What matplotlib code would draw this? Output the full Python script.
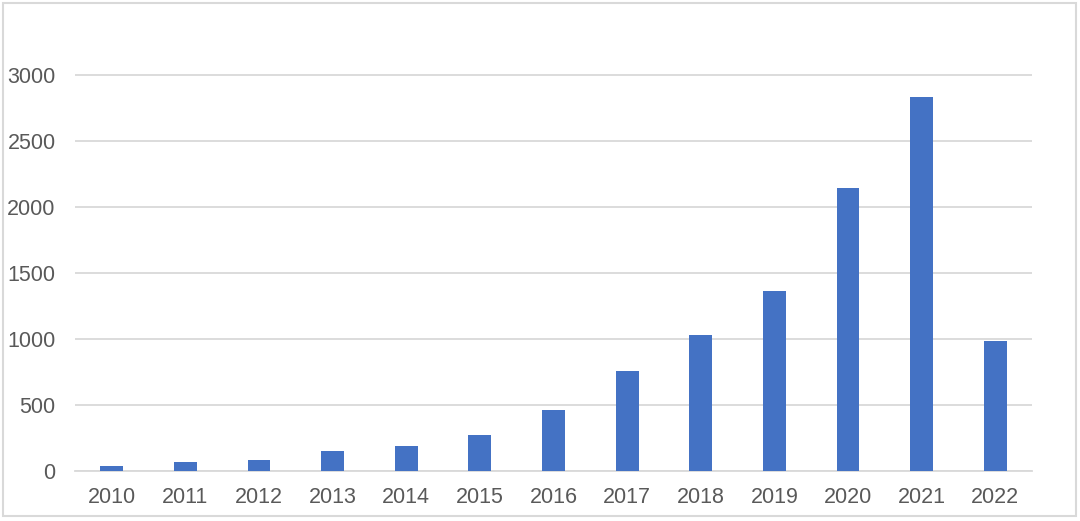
import matplotlib.pyplot as plt
from matplotlib.patches import Rectangle

years = ["2010", "2011", "2012", "2013", "2014", "2015", "2016",
         "2017", "2018", "2019", "2020", "2021", "2022"]
counts = [42, 68, 83, 151, 189, 277, 466, 761, 1031, 1362, 2141, 2834, 986]
y_ticks = [0, 500, 1000, 1500, 2000, 2500, 3000]

bar_color = "#4472C4"
grid_color = "#d9d9d9"
text_color = "#595959"

plt.rcParams['font.family'] = ['Liberation Sans', 'DejaVu Sans']

fig = plt.figure(figsize=(10.8, 5.21), dpi=100)
ax = fig.add_axes([0.0694, 0.0954, 0.8862, 0.885])

x = range(len(years))
ax.bar(x, counts, width=0.31, color=bar_color, zorder=3)

ax.set_xlim(-0.5, len(years) - 0.5)
ax.set_ylim(0, 3490)
ax.set_yticks(y_ticks)
ax.set_xticks(list(x))
ax.set_xticklabels(years)
ax.yaxis.grid(True, color=grid_color, linewidth=1.3, zorder=0)
ax.tick_params(axis='y', length=0, pad=14, labelsize=15.5, labelcolor=text_color)
ax.tick_params(axis='x', length=0, pad=11, labelsize=15.5, labelcolor=text_color)
for side in ["top", "right", "left"]:
    ax.spines[side].set_visible(False)
ax.spines["bottom"].set_color(grid_color)
ax.spines["bottom"].set_linewidth(1.3)

# light frame round the whole picture
fig.patches.append(Rectangle((0.003, 0.009), 0.993, 0.985, transform=fig.transFigure,
                             fill=False, edgecolor=grid_color, linewidth=1.5))

fig.savefig("out.png", dpi=100)
